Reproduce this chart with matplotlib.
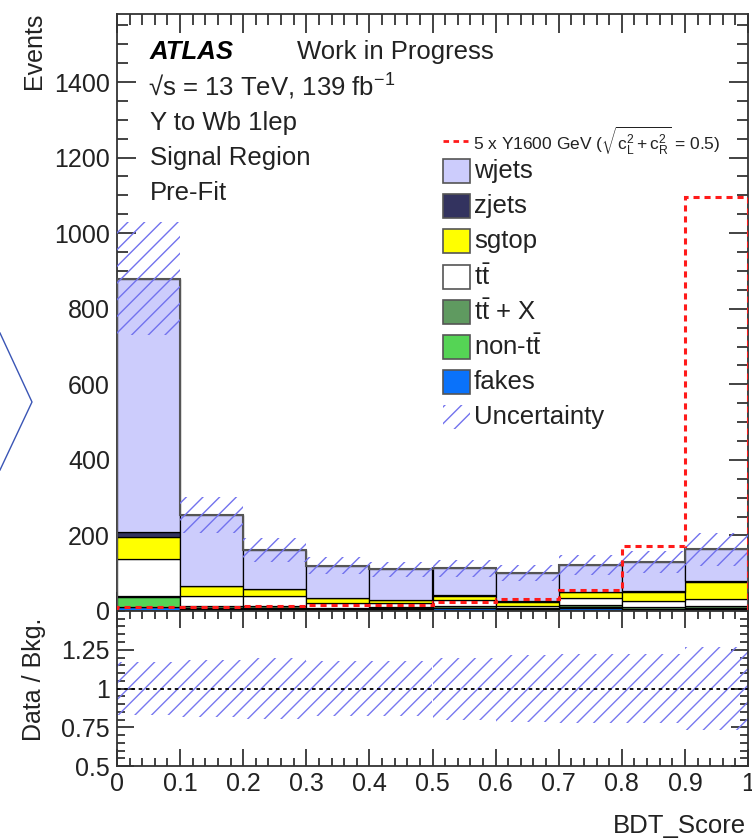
import numpy as np
import matplotlib
matplotlib.use("Agg")
import matplotlib.pyplot as plt
from matplotlib.patches import Rectangle
from matplotlib.lines import Line2D
from matplotlib.ticker import MultipleLocator

plt.rcParams['font.family'] = ['Liberation Sans', 'DejaVu Sans']
plt.rcParams['mathtext.fontset'] = 'custom'
plt.rcParams['mathtext.rm'] = 'Liberation Sans'
plt.rcParams['mathtext.it'] = 'Liberation Sans:italic'
plt.rcParams['mathtext.bf'] = 'Liberation Sans:bold'
plt.rcParams['hatch.linewidth'] = 1.0

# ---------------- data ----------------
bin_edges = [0.0, 0.1, 0.2, 0.3, 0.4, 0.5, 0.6, 0.7, 0.8, 0.9, 1.0]
xtick_labels = ["0", "0.1", "0.2", "0.3", "0.4", "0.5", "0.6", "0.7", "0.8", "0.9", "1"]
fakes  = [10, 5, 5, 4, 5, 7, 4, 8, 3, 4]
nontt  = [28, 4, 4, 2, 2, 2, 2, 3, 3, 4]
ttx    = [2, 3, 3, 3, 3, 4, 2, 5, 4, 6]
ttbar  = [98, 28, 28, 12, 12, 16, 6, 18, 16, 17]
sgtop  = [58, 25, 17, 13, 7, 12, 11, 15, 25, 47]
zjets  = [12, 2, 1, 1, 1, 1, 1, 1, 1, 1]
wjets  = [671, 187, 103, 85, 80, 71, 74, 72, 78, 84]
signal = [10, 11, 14, 15, 15, 23, 32, 56, 172, 1095]
rel_unc = [0.17, 0.185, 0.195, 0.18, 0.18, 0.2, 0.215, 0.22, 0.22, 0.265]

series = [fakes, nontt, ttx, ttbar, sgtop, zjets, wjets]
colors = ["#0a72fa", "#55d455", "#5f9a60", "#ffffff", "#ffff00", "#33335f", "#ccccfc"]

edges = np.array(bin_edges)
left = edges[:-1]
width = np.diff(edges)

W, H = 752, 838
fig = plt.figure(figsize=(W/100, H/100), dpi=100)

def fx(x): return x / W
def fy(y): return 1 - y / H

FS = 18
axl, axr = 117, 748
ax = fig.add_axes([fx(axl), fy(611), fx(axr - axl), fy(14) - fy(611)])
rax = fig.add_axes([fx(axl), fy(766), fx(axr - axl), fy(611) - fy(766)], sharex=ax)

# stack
bottom = np.zeros(len(left))
for vals, col in zip(series, colors):
    v = np.array(vals, float)
    ax.bar(left, v, width=width, bottom=bottom, align='edge', color=col,
           edgecolor='black', linewidth=0.9, zorder=2)
    bottom = bottom + v
total = bottom
ax.stairs(total, edges, color='#555555', linewidth=1.5, zorder=3)

unc = total * np.array(rel_unc)
ax.bar(left, 2 * unc, width=width, bottom=total - unc, align='edge',
       facecolor='none', edgecolor='#7272ee', linewidth=0, hatch='//', zorder=4)

ax.stairs(signal, edges, color='#ff1a1a', linewidth=2.2, linestyle=(0, (2, 1.6)), zorder=5)

ax.set_xlim(0, 1)
ax.set_ylim(0, 1580)

# ratio
ones = np.ones(len(left))
rax.bar(left, 2 * np.array(rel_unc), width=width, bottom=ones - np.array(rel_unc), align='edge',
        facecolor='none', edgecolor='#7878f0', linewidth=0, hatch='//', zorder=2)
rax.axhline(1.0, color='black', linestyle=(0, (2, 2)), linewidth=1.3, zorder=3)
rax.set_ylim(0.5, 1.5)
rax.set_xlim(0, 1)

for a in (ax, rax):
    for s in a.spines.values():
        s.set_linewidth(1.3)
        s.set_color('#333333')
    a.tick_params(which='both', direction='in', top=True, right=True, labelsize=FS, colors='#222222')
    a.xaxis.set_minor_locator(MultipleLocator(0.02))

ax.yaxis.set_major_locator(MultipleLocator(200))
ax.yaxis.set_minor_locator(MultipleLocator(50))
ax.tick_params(which='major', length=14, width=1.2, pad=5)
ax.tick_params(which='minor', length=8, width=1.2)
ax.tick_params(axis='x', labelbottom=False)

rax.set_xticks(bin_edges, xtick_labels)
rax.set_yticks([0.5, 0.75, 1.0, 1.25], ["0.5", "0.75", "1", "1.25"])
rax.yaxis.set_minor_locator(MultipleLocator(0.05))
rax.tick_params(which='major', length=12, width=1.2, pad=5)
rax.tick_params(which='minor', length=6, width=1.2)
rax.tick_params(axis='x', pad=4)
ax.set_xlim(0, 1)

# axis labels
fig.text(fx(34), fy(13), "Events", rotation=90, ha='center', va='top', fontsize=FS, color='#222222')
fig.text(fx(34), fy(679), "Data / Bkg.", rotation=90, ha='center', va='center', fontsize=FS, color='#222222')
fig.text(fx(746), fy(826), "BDT_Score", ha='right', va='center', fontsize=18.5, color='#222222')

# annotations
TS = 18.5
fig.text(fx(150), fy(52), "ATLAS", fontsize=TS, fontweight='bold', fontstyle='italic', va='center', ha='left')
fig.text(fx(297), fy(52), "Work in Progress", fontsize=TS, va='center', ha='left', color='#222222')
fig.text(fx(148), fy(87), "√s = 13 TeV, 139 fb$^{-1}$", fontsize=TS, va='center', ha='left', color='#222222')
fig.text(fx(150), fy(123), "Y to Wb 1lep", fontsize=TS, va='center', ha='left', color='#222222')
fig.text(fx(150), fy(158), "Signal Region", fontsize=TS, va='center', ha='left', color='#222222')
fig.text(fx(150), fy(193), "Pre-Fit", fontsize=TS, va='center', ha='left', color='#222222')

# legend (manual)
fig.add_artist(Line2D([fx(443), fx(468)], [fy(141), fy(141)], color='#ff1a1a',
                      linewidth=2.0, linestyle=(0, (2, 1.6))))
fig.text(fx(473), fy(141), r"5 x Y1600 GeV ($\sqrt{\mathrm{c}_{\mathrm{L}}^{2} + \mathrm{c}_{\mathrm{R}}^{2}}$ = 0.5)",
         fontsize=12.5, va='center', ha='left', color='#222222')
leg_names = ["wjets", "zjets", "sgtop", "t$\\bar{\\mathrm{t}}$", "t$\\bar{\\mathrm{t}}$ + X",
             "non-t$\\bar{\\mathrm{t}}$", "fakes"]
leg_cols = ["#ccccfc", "#33335f", "#ffff00", "#ffffff", "#5f9a60", "#55d455", "#0a72fa"]
y0, dy = 171, 35.2
for i, (nm, c) in enumerate(zip(leg_names, leg_cols)):
    yc = y0 + i * dy
    fig.add_artist(Rectangle((fx(443), fy(yc + 12)), fx(27), fy(yc - 12) - fy(yc + 12),
                             facecolor=c, edgecolor='#555555', linewidth=1.2))
    fig.text(fx(474), fy(yc), nm, fontsize=TS, va='center', ha='left', color='#222222')
yc = y0 + 7 * dy
fig.add_artist(Rectangle((fx(443), fy(yc + 12)), fx(27), fy(yc - 12) - fy(yc + 12),
                         facecolor='none', edgecolor='#7272ee', linewidth=0, hatch='//'))
fig.text(fx(474), fy(yc), "Uncertainty", fontsize=TS, va='center', ha='left', color='#222222')

# stray chevron on the left edge
fig.add_artist(Line2D([fx(0), fx(32), fx(0)], [fy(333), fy(402), fy(470)], color='#3a55b5', linewidth=1.0))

fig.savefig("out.png", dpi=100)
